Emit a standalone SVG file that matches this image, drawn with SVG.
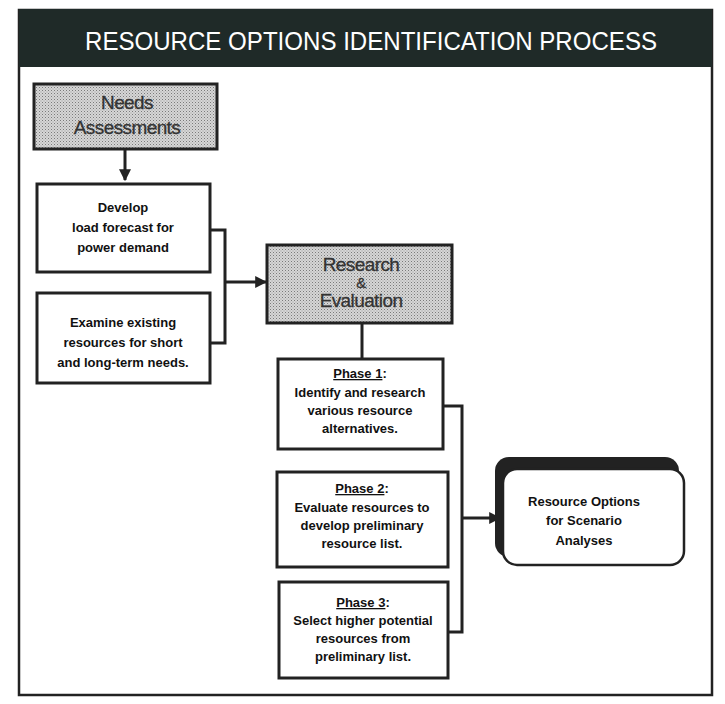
<svg xmlns="http://www.w3.org/2000/svg" width="725" height="704" viewBox="0 0 725 704">
  <defs>
    <pattern id="stipple" width="3" height="3" patternUnits="userSpaceOnUse">
      <rect width="3" height="3" fill="#d6d6d6"/>
      <rect x="0" y="0" width="1" height="1" fill="#7a7a7a"/>
      <rect x="1.5" y="1.5" width="1" height="1" fill="#9a9a9a"/>
    </pattern>
    <marker id="arrow" viewBox="0 0 10 10" refX="9" refY="5" markerWidth="4" markerHeight="4" orient="auto">
      <path d="M0,0 L10,5 L0,10 z" fill="#222"/>
    </marker>
  </defs>
  <style>
    .box { fill: #fff; stroke: #222; stroke-width: 3; }
    .shade { fill: url(#stipple); stroke: #222; stroke-width: 3; }
    .body { font-family: "Liberation Sans", Arial, sans-serif; font-size: 13px; font-weight: bold; fill: #111; text-anchor: middle; }
    .big { font-family: "Liberation Sans", Arial, sans-serif; font-size: 19px; fill: #333; text-anchor: middle; letter-spacing: -0.6px; stroke: #333; stroke-width: 0.3; }
    .conn { fill: none; stroke: #222; stroke-width: 3; }
  </style>

  <rect width="725" height="704" fill="#fff"/>

  <!-- frame and title band -->
  <g id="frame">
    <rect x="19" y="10" width="693" height="685" fill="none" stroke="#222" stroke-width="2.5"/>
    <rect x="19" y="9" width="693" height="58" fill="#1f2a28"/>
    <text x="371" y="50" font-family="Liberation Sans, Arial, sans-serif" font-size="26" fill="#fff" text-anchor="middle" textLength="572" lengthAdjust="spacingAndGlyphs">RESOURCE OPTIONS IDENTIFICATION PROCESS</text>
  </g>

  <!-- connectors -->
  <g id="connectors">
    <line class="conn" x1="125" y1="150" x2="125" y2="180" marker-end="url(#arrow)"/>
    <polyline class="conn" points="210,230 225,230 225,343 210,343"/>
    <line class="conn" x1="225" y1="282" x2="266" y2="282" marker-end="url(#arrow)"/>
    <line class="conn" x1="362" y1="323" x2="362" y2="359"/>
    <polyline class="conn" points="443,406 462,406 462,632 448,632"/>
    <line class="conn" x1="462" y1="518" x2="500" y2="518" marker-end="url(#arrow)"/>
  </g>

  <g id="needs">
    <rect class="shade" x="34" y="84" width="183" height="65"/>
    <text class="big" x="127" y="109">Needs</text>
    <text class="big" x="127" y="134">Assessments</text>
  </g>

  <g id="develop">
    <rect class="box" x="37" y="184" width="173" height="88"/>
    <text class="body" x="123" y="212">Develop</text>
    <text class="body" x="123" y="232">load forecast for</text>
    <text class="body" x="123" y="252">power demand</text>
  </g>

  <g id="examine">
    <rect class="box" x="37" y="293" width="173" height="90"/>
    <text class="body" x="123" y="327">Examine existing</text>
    <text class="body" x="123" y="347">resources for short</text>
    <text class="body" x="123" y="367">and long-term needs.</text>
  </g>

  <g id="research">
    <rect class="shade" x="267" y="245" width="185" height="78"/>
    <text class="big" x="361" y="271">Research</text>
    <text class="big" x="361" y="288" style="font-size:15px">&amp;</text>
    <text class="big" x="361" y="307">Evaluation</text>
  </g>

  <g id="phase1">
    <rect class="box" x="278" y="359" width="165" height="90"/>
    <text class="body" x="360" y="378"><tspan text-decoration="underline">Phase 1</tspan>:</text>
    <text class="body" x="360" y="397">Identify and research</text>
    <text class="body" x="360" y="415">various resource</text>
    <text class="body" x="360" y="433">alternatives.</text>
  </g>

  <g id="phase2">
    <rect class="box" x="277" y="472" width="171" height="95"/>
    <text class="body" x="362" y="493"><tspan text-decoration="underline">Phase 2</tspan>:</text>
    <text class="body" x="362" y="512">Evaluate resources to</text>
    <text class="body" x="362" y="530">develop preliminary</text>
    <text class="body" x="362" y="548">resource list.</text>
  </g>

  <g id="phase3">
    <rect class="box" x="279" y="582" width="169" height="96"/>
    <text class="body" x="363" y="607"><tspan text-decoration="underline">Phase 3</tspan>:</text>
    <text class="body" x="363" y="625">Select higher potential</text>
    <text class="body" x="363" y="643">resources from</text>
    <text class="body" x="363" y="661">preliminary list.</text>
  </g>

  <g id="options">
    <rect x="495" y="457" width="184" height="100" rx="14" fill="#222"/>
    <rect x="503" y="469" width="181" height="96" rx="14" fill="#fff" stroke="#222" stroke-width="2.5"/>
    <text class="body" x="584" y="506">Resource Options</text>
    <text class="body" x="584" y="525">for Scenario</text>
    <text class="body" x="584" y="545">Analyses</text>
  </g>
</svg>
